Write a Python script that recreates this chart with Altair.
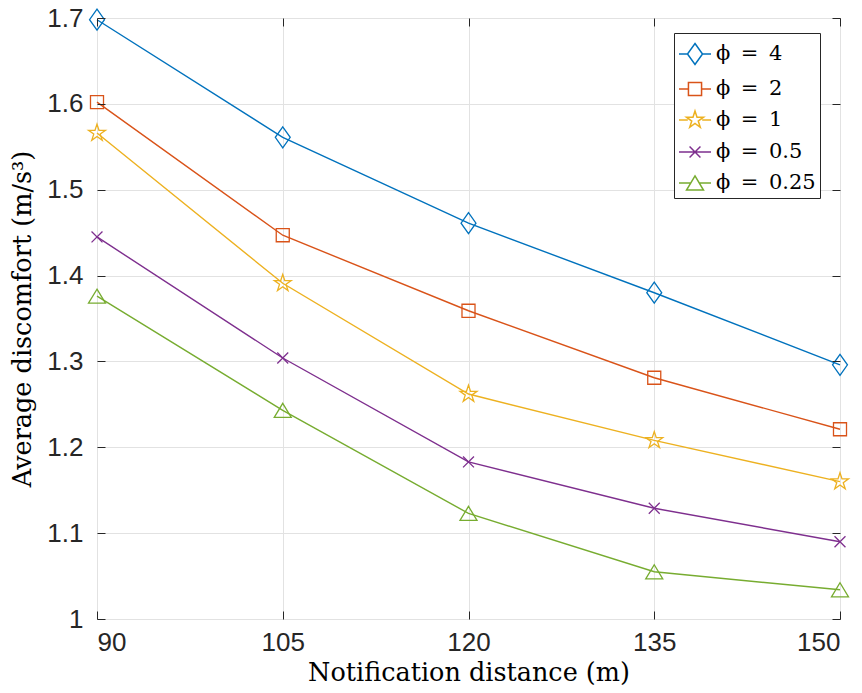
import math
import altair as alt
import pandas as pd

# ---------------- data ----------------
x_vals = [90, 105, 120, 135, 150]
phi_4 = [1.698, 1.561, 1.461, 1.380, 1.296]
phi_2 = [1.602, 1.447, 1.359, 1.281, 1.221]
phi_1 = [1.566, 1.391, 1.262, 1.208, 1.160]
phi_05 = [1.445, 1.304, 1.183, 1.129, 1.090]
phi_025 = [1.376, 1.243, 1.123, 1.055, 1.034]

series_labels = ["ϕ\u2002=\u20024", "ϕ\u2002=\u20022", "ϕ\u2002=\u20021",
                 "ϕ\u2002=\u20020.5", "ϕ\u2002=\u20020.25"]
series_colors = ["#0072BD", "#D95319", "#EDB120", "#7E2F8E", "#77AC30"]
x_ticks = [90, 105, 120, 135, 150]
y_ticks = [1.0, 1.1, 1.2, 1.3, 1.4, 1.5, 1.6, 1.7]

rows = []
for lab, vals in zip(series_labels, [phi_4, phi_2, phi_1, phi_05, phi_025]):
    for xv, yv in zip(x_vals, vals):
        rows.append({"x": xv, "y": yv, "series": lab})
df = pd.DataFrame(rows)

W, H = 743, 601
AX = "#262626"
SANS = "Liberation Sans, Arial, Helvetica, sans-serif"
SERIF = "DejaVu Serif, serif"


# ---------------- marker shapes (SVG paths in the -1..1 box) ----------------
def poly(pts):
    return "M" + "L".join(f"{a:.3f},{b:.3f}" for a, b in pts) + "Z"


def star(R):
    r = R * 0.382
    pts = []
    for k in range(10):
        ang = math.radians(-90 + 36 * k)
        rad = R if k % 2 == 0 else r
        pts.append((rad * math.cos(ang), rad * math.sin(ang)))
    return poly(pts)


marker_paths = [
    poly([(0, -1), (0.71, 0), (0, 1), (-0.71, 0)]),
    poly([(-0.62, -0.62), (0.62, -0.62), (0.62, 0.62), (-0.62, 0.62)]),
    star(0.85),
    "M-0.52,-0.52L0.52,0.52M0.52,-0.52L-0.52,0.52",
    poly([(0, -0.67), (0.81, 0.67), (-0.81, 0.67)]),
]

legend_paths = [
    "M-1,0L-0.47,0M0.47,0L1,0" + poly([(0, -0.66), (0.47, 0), (0, 0.66), (-0.47, 0)]),
    "M-1,0L-0.41,0M0.41,0L1,0" + poly([(-0.41, -0.41), (0.41, -0.41), (0.41, 0.41), (-0.41, 0.41)]),
    "M-1,0L-0.45,0M0.45,0L1,0" + star(0.56),
    "M-1,0L1,0M-0.34,-0.34L0.34,0.34M0.34,-0.34L-0.34,0.34",
    "M-1,0L-0.27,0M0.27,0L1,0" + poly([(0, -0.44), (0.53, 0.44), (-0.53, 0.44)]),
]

xscale = alt.Scale(domain=[90, 150], nice=False, zero=False)
yscale = alt.Scale(domain=[1.0, 1.7], nice=False, zero=False)


def cscale():
    return alt.Scale(domain=series_labels, range=series_colors)


# ---------------- axes ----------------
ax_main_x = alt.Axis(
    values=x_ticks, orient="bottom", labelFont=SANS, labelFontSize=26,
    labelColor=AX, labelPadding=10, ticks=False, tickSize=0, domain=False,
    grid=True, gridColor="#e2e2e2", gridWidth=1,
    title="Notification distance (m)", titleFont=SERIF, titleFontSize=25.5,
    titleFontWeight="normal", titleColor="black", titleY=53, titleBaseline="middle",
)
ax_main_y = alt.Axis(
    values=y_ticks, format="~g", orient="left", labelFont=SANS,
    labelFontSize=26, labelColor=AX, labelPadding=14, ticks=False, tickSize=0,
    domain=False, grid=True, gridColor="#e2e2e2", gridWidth=1,
    title="Average discomfort (m/s³)", titleFont=SERIF, titleFontSize=25.5,
    titleFontWeight="normal", titleColor="black", titleX=-75, titleY=H / 2,
    titleAngle=-90, titleBaseline="middle", titleAlign="center",
)
# inward ticks: bottom & left
ax_tick_bottom = alt.Axis(values=x_ticks, orient="top", offset=-H, labels=False,
                          domain=False, grid=False, ticks=True, tickSize=8,
                          tickColor=AX, tickWidth=1, title=None, zindex=1)
ax_tick_left = alt.Axis(values=y_ticks, orient="right", offset=-W, labels=False,
                        domain=False, grid=False, ticks=True, tickSize=8,
                        tickColor=AX, tickWidth=1, title=None, zindex=1)
# inward ticks: top & right
ax_tick_top = alt.Axis(values=x_ticks, orient="bottom", offset=-H, labels=False,
                       domain=False, grid=False, ticks=True, tickSize=8,
                       tickColor=AX, tickWidth=1, title=None, zindex=1)
ax_tick_right = alt.Axis(values=y_ticks, orient="left", offset=-W, labels=False,
                         domain=False, grid=False, ticks=True, tickSize=8,
                         tickColor=AX, tickWidth=1, title=None, zindex=1)

leg = alt.Legend(
    orient="none", legendX=577, legendY=15, title=None,
    symbolSize=1024, symbolStrokeWidth=1.5, symbolFillColor="transparent",
    labelFont=SERIF, labelFontSize=21, labelColor="black", labelLimit=300,
    labelOffset=4, strokeColor=AX, fillColor="white", padding=4, rowPadding=4,
)

lines = alt.Chart(df).mark_line(strokeWidth=1.4).encode(
    x=alt.X("x:Q", scale=xscale, axis=ax_main_x),
    y=alt.Y("y:Q", scale=yscale, axis=ax_main_y),
    color=alt.Color("series:N", scale=cscale(), legend=None),
)

points = alt.Chart(df).mark_point(filled=False, size=441, strokeWidth=1.3, opacity=1).encode(
    x=alt.X("x:Q", scale=xscale, axis=ax_tick_bottom),
    y=alt.Y("y:Q", scale=yscale, axis=ax_tick_left),
    color=alt.Color("series:N", scale=cscale(), legend=None),
    shape=alt.Shape("series:N", scale=alt.Scale(domain=series_labels, range=marker_paths),
                    legend=None),
)

legend_layer = alt.Chart(df).transform_filter("false").mark_point(
    filled=False, strokeWidth=1.5, opacity=1
).encode(
    x=alt.X("x:Q", scale=xscale, axis=ax_tick_top),
    y=alt.Y("y:Q", scale=yscale, axis=ax_tick_right),
    color=alt.Color("series:N", scale=cscale(), legend=leg),
    shape=alt.Shape("series:N", scale=alt.Scale(domain=series_labels, range=legend_paths),
                    legend=leg),
)

chart = (
    alt.layer(lines, points, legend_layer)
    .resolve_scale(color="independent", shape="independent")
    .resolve_axis(x="independent", y="independent")
    .properties(
        width=W, height=H,
        padding={"left": 89, "top": 10, "right": 14, "bottom": 66},
        autosize=alt.AutoSizeParams(type="none"),
        background="white",
    )
    .configure_view(stroke=AX, strokeWidth=1)
    .configure_legend(labelFont=SERIF, labelFontSize=21, labelColor="black")
)

chart.save("out.html", embed_options={"renderer": "svg", "actions": False})
